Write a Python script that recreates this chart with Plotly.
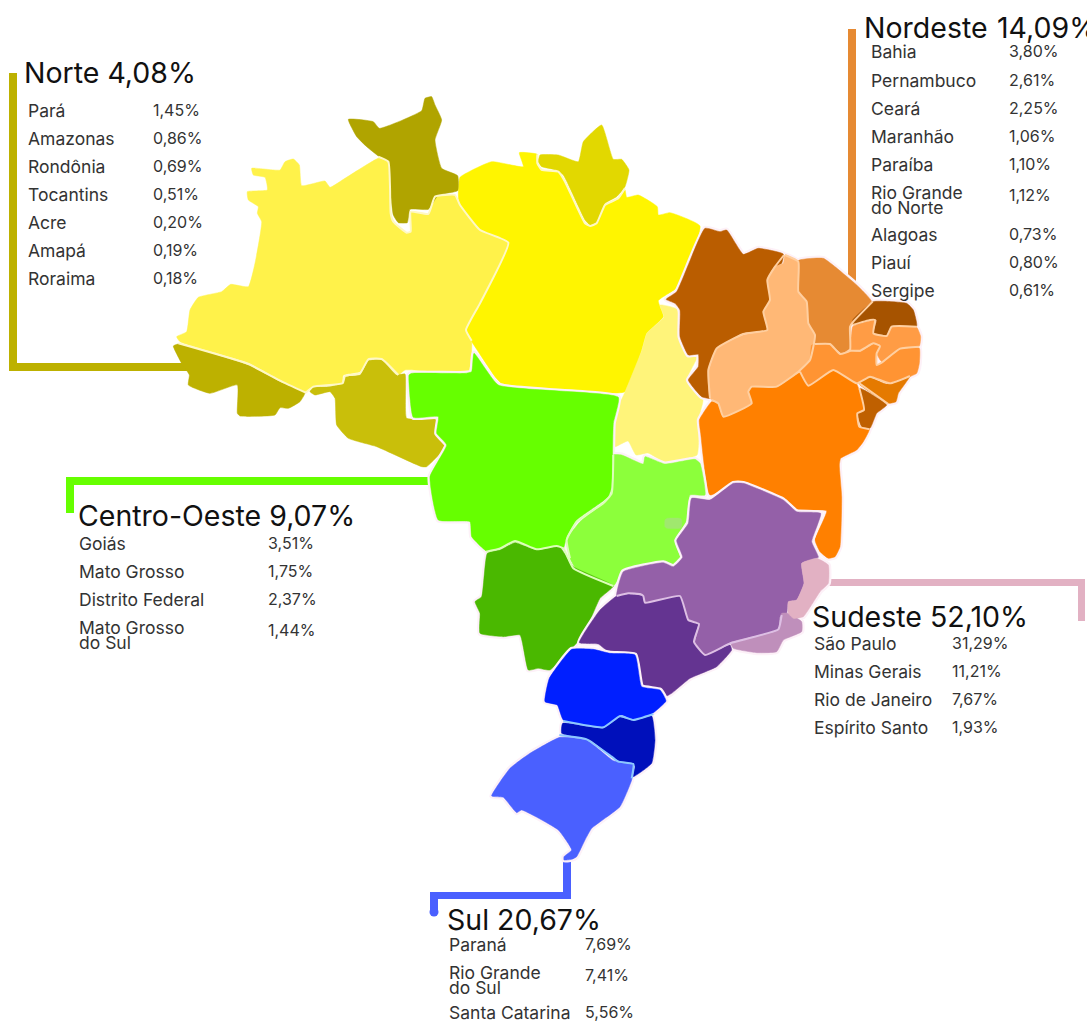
import plotly.graph_objects as go

FONT = "Inter"
TITLE_SIZE = 28.5
NAME_SIZE = 17.5
VALUE_SIZE = 16

def z(ox, oy, pts):
    return [(ox + a / 3, oy + b / 3) for a, b in pts]

AM = z(160, 90, [(275,235),(360,240),(375,215),(400,207),(418,225),(425,287),(495,273),(510,292),(555,265),(655,205),(680,210),(690,240),(692,370),(700,395),(740,428),(752,425),(752,365),(805,372),(825,320),(885,315),(900,345),(960,420),(1045,458),(960,640),(918,720),(935,752),(925,845),(735,840),(715,855),(670,810),(630,805),(600,845),(550,855),(545,880),(460,890),(435,905),(360,870),(265,818),(60,755),(50,740),(80,725),(90,660),(115,622),(185,605),(212,583),(265,590),(285,520),(305,395),(292,370),(295,350),(265,330),(262,305),(322,300),(315,262),(280,255)])
RR = z(160, 90, [(565,88),(640,95),(658,115),(785,62),(795,25),(815,20),(825,45),(845,90),(825,150),(845,235),(893,257),(893,302),(835,315),(805,358),(750,358),(742,398),(715,398),(700,375),(690,290),(685,215),(655,198),(620,170),(590,140)])
AC = z(160, 90, [(40,768),(55,762),(265,825),(360,875),(435,908),(420,935),(385,955),(360,953),(345,975),(240,978),(232,970),(232,885),(150,910),(85,885),(88,855),(65,820)])
RO = z(160, 90, [(450,905),(460,892),(510,890),(548,880),(555,860),(600,855),(625,812),(665,810),(710,855),(735,852),(740,985),(815,985),(828,990),(825,1030),(860,1065),(800,1130),(785,1130),(650,1070),(565,1045),(530,1005),(525,925),(510,905),(465,915)])
AP = z(450, 120, [(270,105),(325,105),(385,125),(400,65),(455,15),(490,118),(515,118),(537,150),(525,200),(500,230),(465,250),(445,305),(420,315),(405,300),(340,165),(320,150),(275,140),(265,125)])
PA = z(450, 120, [(30,172),(125,125),(220,140),(208,98),(262,103),(262,130),(275,150),(325,155),(345,185),(405,310),(420,318),(440,310),(465,255),(505,235),(525,210),(530,232),(565,225),(622,260),(625,285),(660,278),(750,318),(685,500),(625,542),(640,590),(590,640),(575,690),(525,815),(155,790),(135,770),(65,665),(45,635),(90,545),(175,370),(90,335),(30,265),(25,225)])
TO = [(660,305),(677,309),(680,337),(685,353),(697,357),(688,377),(703,400),(699,417),(697,455),(665,462),(648,453),(636,455),(628,441),(614,447),(617,410),(625,392),(642,350),(647,333),(664,317)]
MA = z(660, 220, [(18,238),(50,215),(135,25),(180,35),(200,30),(250,103),(295,85),(370,102),(365,130),(340,145),(322,180),(330,240),(310,275),(322,330),(250,340),(170,385),(145,450),(150,535),(125,530),(85,480),(115,440),(115,403),(85,405),(60,350),(60,270),(45,250)])
PI = z(660, 220, [(375,105),(415,125),(415,215),(440,245),(445,310),(465,345),(450,420),(415,455),(350,500),(275,500),(265,515),(275,550),(250,565),(190,590),(175,550),(150,535),(145,460),(170,385),(250,345),(322,330),(310,275),(330,240),(322,180),(345,140),(370,130)])
CE = z(660, 220, [(415,122),(490,115),(555,165),(590,195),(635,245),(580,300),(570,320),(570,385),(545,400),(510,372),(465,370),(445,310),(440,245),(415,215)])
RN = z(660, 220, [(640,245),(740,250),(760,270),(770,318),(695,318),(680,345),(640,340),(650,300),(630,300),(580,315),(578,300)])
PB = z(660, 220, [(578,320),(630,300),(645,300),(640,340),(680,348),(695,320),(770,322),(782,350),(778,378),(720,385),(665,425),(650,400),(660,375),(640,370),(600,392),(570,390),(575,340)])
PE = z(660, 220, [(455,375),(510,372),(540,402),(570,392),(600,395),(640,372),(660,378),(650,400),(650,435),(665,430),(720,388),(778,385),(778,430),(770,460),(690,490),(630,470),(590,490),(520,450),(445,497),(420,455),(450,420)])
AL = z(660, 220, [(598,490),(625,472),(680,492),(750,468),(715,520),(708,545),(685,550),(600,495)])
SE = z(660, 220, [(600,505),(680,555),(650,580),(630,625),(605,620),(595,595),(592,578),(612,570)])
BA = z(660, 220, [(155,545),(175,550),(190,590),(270,550),(265,515),(280,497),(350,500),(420,458),(445,497),(520,452),(590,492),(612,570),(592,580),(598,620),(628,628),(610,665),(590,690),(542,715),(538,735),(545,830),(540,980),(525,1010),(505,1015),(480,995),(465,960),(500,872),(405,870),(380,840),(235,785),(150,825),(122,640),(118,600)])
MG = z(570, 470, [(365,85),(420,90),(490,40),(520,40),(640,90),(680,125),(752,130),(725,215),(745,262),(695,280),(702,340),(680,390),(655,395),(650,430),(630,440),(625,478),(480,518),(405,555),(375,520),(387,462),(355,450),(330,378),(225,398),(220,378),(210,372),(175,370),(140,378),(160,305),(280,278),(310,290),(338,262),(320,212),(355,160)])
SP = z(570, 470, [(28,518),(90,420),(140,378),(175,372),(205,375),(220,378),(225,398),(330,378),(355,450),(385,460),(372,515),(405,555),(480,525),(485,540),(440,590),(360,625),(305,670),(285,680),(270,660),(215,650),(195,555),(115,545),(85,522)])
RJ = z(570, 470, [(482,518),(625,480),(635,430),(655,430),(695,455),(695,485),(640,510),(620,545),(560,548),(490,535)])
ES = z(570, 470, [(695,280),(740,265),(775,285),(775,340),(750,365),(700,440),(670,445),(655,430),(655,395),(680,390),(702,340)])
GO = z(400, 340, [(640,345),(665,345),(730,372),(735,350),(795,372),(885,358),(900,370),(915,465),(870,465),(860,540),(825,605),(840,650),(825,678),(780,665),(670,690),(640,738),(530,690),(510,655),(500,600),(540,545),(610,490),(635,460)])
DF = z(400, 340, [(795,540),(802,535),(840,535),(845,540),(845,560),(840,565),(802,565),(795,560)])
MT = z(400, 340, [(27,105),(35,100),(195,100),(215,95),(222,40),(295,135),(655,172),(640,250),(635,440),(625,470),(600,490),(530,540),(500,590),(490,625),(470,618),(410,628),(345,605),(300,625),(262,635),(215,590),(210,545),(115,540),(90,410),(140,315),(110,280),(115,230),(40,232),(27,130)])
MS = z(400, 340, [(262,640),(300,630),(345,608),(410,630),(478,620),(520,680),(640,738),(600,775),(550,885),(450,990),(415,985),(385,990),(360,885),(310,890),(240,880),(240,820),(225,785),(245,770)])
PR = z(420, 640, [(455,28),(520,28),(570,40),(645,45),(665,140),(720,150),(738,183),(695,222),(640,240),(605,225),(550,262),(430,240),(412,195),(375,185),(388,115)])
SC = z(420, 640, [(428,250),(550,265),(600,232),(640,242),(695,228),(705,300),(695,370),(640,410),(645,380),(640,370),(595,362),(575,350),(510,300),(425,280)])
RS = z(420, 640, [(420,292),(500,300),(580,362),(640,372),(635,420),(600,500),(515,565),(495,600),(470,650),(455,658),(432,660),(432,650),(455,630),(415,570),(305,510),(290,518),(250,472),(215,468),(270,385),(330,340)])

# ---- pale divider lines inside each region
DIV_NORTE = [
    z(160, 90, [(655,200),(685,215),(690,290),(692,370),(700,395),(740,428),(752,425),(752,365),(805,372),(825,320),(885,315),(900,345),(960,420),(1045,458),(960,640),(918,720),(935,752)]),
    z(160, 90, [(55,760),(265,822),(360,872),(437,908)]),
    z(160, 90, [(437,908),(460,890),(548,880),(555,858),(600,850),(625,808),(665,807),(715,855)]),
    z(450, 120, [(262,103),(262,130),(275,150),(325,155),(345,185),(405,310),(420,318),(440,310),(465,255),(505,235),(525,205)]),
]
DIV_NORDESTE = [
    z(660, 220, [(372,105),(345,140),(322,180),(330,240),(310,275),(322,330),(250,342),(170,385),(145,450),(150,535)]),
    z(660, 220, [(375,105),(415,125),(415,215),(440,245),(445,310),(465,345),(450,420),(415,455),(350,500),(275,500),(265,515),(275,550),(190,590),(175,550),(155,540)]),
    z(660, 220, [(465,372),(510,372),(540,402),(570,392),(570,320),(580,305),(638,245)]),
    z(660, 220, [(578,315),(630,300),(645,300),(640,340),(680,348),(695,320),(770,320)]),
    z(660, 220, [(570,392),(600,392),(640,370),(660,378),(650,400),(650,435),(665,428),(720,386),(778,380)]),
    z(660, 220, [(420,455),(445,497),(520,450),(590,490),(630,470),(690,490),(750,468)]),
    z(660, 220, [(598,490),(685,552)]),
    z(660, 220, [(598,505),(612,570),(592,580),(598,620),(628,628)]),
]
DIV_CENTRO = [
    z(400, 340, [(258,635),(300,625),(345,603),(410,628),(470,618),(490,625),(520,685),(640,738)]),
    z(400, 340, [(640,345),(635,460),(610,490),(530,545),(500,600),(510,655)]),
]
DIV_SUDESTE = [
    z(570, 470, [(140,378),(175,370),(210,372),(220,378),(225,398),(330,378),(355,450),(387,462),(372,515),(405,555),(480,520),(625,478),(635,435)]),
]
DIV_SUL = [
    z(420, 640, [(430,243),(550,262),(600,228),(640,240),(700,222)]),
    z(420, 640, [(418,285),(500,298),(575,350),(595,365),(640,372),(635,415)]),
]

# ---- groups: (halo colour, divider colour, dividers, [(name, outline, fill)])
PINK = "#FDF1F8"
REGIONS = [
    (None, "#FFF8C4", DIV_NORTE, [("Pará",PA,"#FFF500"),("Amazonas",AM,"#FFF24A"),("Roraima",RR,"#B0A400"),("Acre",AC,"#BDB100"),("Rondônia",RO,"#C9BF0A"),("Amapá",AP,"#E2D800"),("Tocantins",TO,"#FFF47A")]),
    (PINK, "#FFCFA0", DIV_NORDESTE, [("Bahia",BA,"#FF8000"),("Maranhão",MA,"#BA5D00"),("Ceará",CE,"#E68A33"),("Piauí",PI,"#FFB876"),("Pernambuco",PE,"#FF9433"),("Paraíba",PB,"#FF9C45"),("Rio Grande do Norte",RN,"#A65300"),("Alagoas",AL,"#E57A00"),("Sergipe",SE,"#BF6000")]),
    (PINK, "#DCFFB8", DIV_CENTRO, [("Mato Grosso",MT,"#66FF00"),("Goiás",GO,"#8CFF3B"),("Mato Grosso do Sul",MS,"#4AB800"),("Distrito Federal",DF,"#A0E86E")]),
    (PINK, "#DDBFE4", DIV_SUDESTE, [("Minas Gerais",MG,"#9460A8"),("São Paulo",SP,"#643491"),("Rio de Janeiro",RJ,"#BF8FBB"),("Espírito Santo",ES,"#E2B1C3")]),
    (PINK, "#8CC8FF", DIV_SUL, [("Paraná",PR,"#001FFF"),("Santa Catarina",SC,"#0010BB"),("Rio Grande do Sul",RS,"#4A60FF")]),
]

# ---- texts
NORTE_NAMES = ["Pará","Amazonas","Rondônia","Tocantins","Acre","Amapá","Roraima"]
NORTE_VALUES = ["1,45%","0,86%","0,69%","0,51%","0,20%","0,19%","0,18%"]
NORDESTE_NAMES = ["Bahia","Pernambuco","Ceará","Maranhão","Paraíba","Rio Grande|do Norte","Alagoas","Piauí","Sergipe"]
NORDESTE_VALUES = ["3,80%","2,61%","2,25%","1,06%","1,10%","1,12%","0,73%","0,80%","0,61%"]
CENTRO_NAMES = ["Goiás","Mato Grosso","Distrito Federal","Mato Grosso|do Sul"]
CENTRO_VALUES = ["3,51%","1,75%","2,37%","1,44%"]
SUDESTE_NAMES = ["São Paulo","Minas Gerais","Rio de Janeiro","Espírito Santo"]
SUDESTE_VALUES = ["31,29%","11,21%","7,67%","1,93%"]
SUL_NAMES = ["Paraná","Rio Grande|do Sul","Santa Catarina"]
SUL_VALUES = ["7,69%","7,41%","5,56%"]

# (names, values, label x, value x, row centres)
BLOCKS = [
    (NORTE_NAMES, NORTE_VALUES, 28, 153, [110,138,166,194,222,250,278]),
    (NORDESTE_NAMES, NORDESTE_VALUES, 871, 1009, [51,80,108,136,164,192,234,262,290]),
    (CENTRO_NAMES, CENTRO_VALUES, 79, 268, [543,571,599,627]),
    (SUDESTE_NAMES, SUDESTE_VALUES, 814, 952, [643,671,699,727]),
    (SUL_NAMES, SUL_VALUES, 449, 585, [944,972,1012]),
]
TITLES = [("Norte 4,08%",24,72),("Nordeste",864,27),("14,09%",997,27),("Centro-Oeste 9,07%",78,515),("Sudeste 52,10%",812,616),("Sul 20,67%",447,919)]

# ---- leader bars
BARS = [
    ("#BDB100",[(9,73,17,371),(9,363,190,371)]),
    ("#E68A33",[(848,29,856,285)]),
    ("#66FF00",[(66,477,432,485),(66,477,74,513)]),
    ("#E2B1C3",[(825,579,1085,586),(1078,579,1085,621)]),
    ("#4A60FF",[(563,855,571,899),(430,892,571,899),(430,892,438,912)]),
]

fig = go.Figure()

def path(pts, closed, fill, line, width, name):
    xs = [p[0] for p in pts]
    ys = [p[1] for p in pts]
    if closed:
        xs = xs + xs[:1]
        ys = ys + ys[:1]
    fig.add_trace(go.Scatter(x=xs, y=ys, mode="lines", fill="toself" if fill else None,
                             fillcolor=fill, name=name, hoverinfo="name",
                             line=dict(color=line, width=width, shape="spline", smoothing=0.4)))

for halo, divider, dividers, states in REGIONS:
    if halo:
        for name, pts, color in states:
            if name != "Distrito Federal":
                path(pts, True, None, halo, 5, name)
    for name, pts, color in states:
        path(pts, True, color, color, 0.5, name)
    for pts in dividers:
        path(pts, False, None, divider, 2, "divisa")

shapes = []
for color, rects in BARS:
    for x0, y0, x1, y1 in rects:
        shapes.append(dict(type="rect", x0=x0, y0=y0, x1=x1, y1=y1, fillcolor=color,
                           line_width=0, layer="below"))
shapes.append(dict(type="circle", x0=429.5, y0=907.5, x1=438.5, y1=916.5, fillcolor="#4A60FF",
                   line_width=0, layer="below"))

ann = []
def text(s, x, y, size, color):
    ann.append(dict(text=s, x=x - 2, y=y, xref="x", yref="y", xanchor="left", yanchor="middle",
                    showarrow=False, font=dict(family=FONT, size=size, color=color)))

for s, x, y in TITLES:
    text(s, x, y, TITLE_SIZE, "#111111")
for names, values, lx, vx, rows in BLOCKS:
    for n, v, y in zip(names, values, rows):
        parts = n.split("|")
        for i, part in enumerate(parts):
            text(part, lx, y + i * 15, NAME_SIZE, "#333333")
        text(v, vx, y + (3 if len(parts) > 1 else 0), VALUE_SIZE, "#333333")

fig.update_layout(
    width=1087, height=1024, margin=dict(l=0, r=0, t=0, b=0),
    paper_bgcolor="white", plot_bgcolor="white", showlegend=False,
    xaxis=dict(range=[0,1087], visible=False, fixedrange=True),
    yaxis=dict(range=[1024,0], visible=False, fixedrange=True),
    shapes=shapes, annotations=ann,
)
fig.write_html("out.html", post_script="document.body.style.margin='0';",
               config=dict(displayModeBar=False))
